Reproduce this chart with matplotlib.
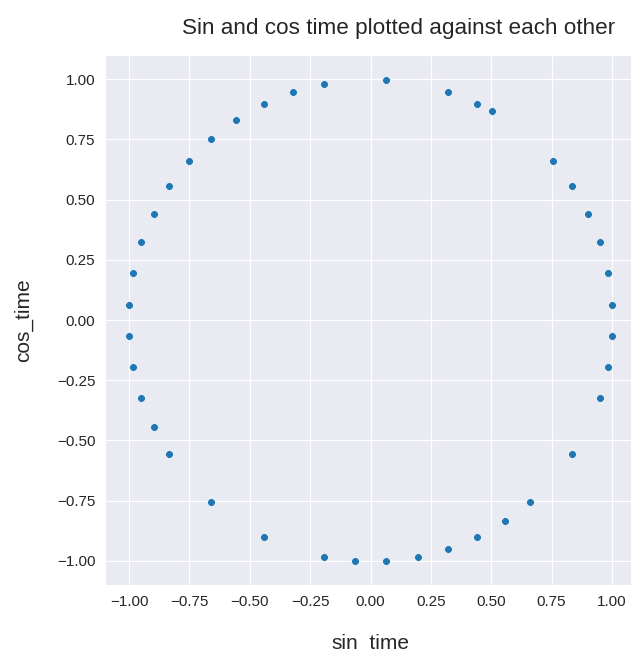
import numpy as np
import matplotlib

matplotlib.use("Agg")
import matplotlib.pyplot as plt
import seaborn as sns

sns.set_style("darkgrid")
plt.rcParams["font.family"] = ["Liberation Sans", "DejaVu Sans"]

# values
sin_time = [
    -1.000, -0.982, -0.949, -0.899, -0.834, -0.754, -0.659, -0.557, -0.443,
    -0.321, -0.194, 0.066, 0.323, 0.443, 0.503, 0.755, 0.834, 0.901, 0.950,
    0.985, 1.000, -1.000, -0.982, -0.949, -0.899, -0.834, -0.659, -0.443,
    -0.194, -0.064, 0.066, 1.000, 0.985, 0.950, 0.834, 0.662, 0.558, 0.443,
    0.323, 0.197,
]
cos_time = [
    0.064, 0.194, 0.322, 0.442, 0.555, 0.659, 0.751, 0.831, 0.897,
    0.947, 0.980, 0.997, 0.947, 0.897, 0.866, 0.659, 0.555, 0.442, 0.322,
    0.194, 0.064, -0.066, -0.197, -0.322, -0.445, -0.558, -0.754, -0.900,
    -0.983, -1.000, -1.000, -0.066, -0.197, -0.322, -0.558, -0.754, -0.833, -0.900,
    -0.950, -0.983,
]

fig = plt.figure(figsize=(6.31, 6.51), dpi=100)
ax = fig.add_axes([105 / 631, 1 - 585 / 651, 531 / 631, 530 / 651])

ax.scatter(sin_time, cos_time, s=32, color="#1f77b4", edgecolor="white", linewidth=0.5)

ax.set_xlim(-1.1, 1.1)
ax.set_ylim(-1.1, 1.1)
ticks = [-1.0, -0.75, -0.5, -0.25, 0.0, 0.25, 0.5, 0.75, 1.0]
ax.set_xticks(ticks)
ax.set_yticks(ticks)
ax.set_xticklabels([f"{t:.2f}".replace("-", "\u2212") for t in ticks])
ax.set_yticklabels([f"{t:.2f}".replace("-", "\u2212") for t in ticks])
ax.tick_params(labelsize=11, colors="#262626")

# the original figure was cropped, so the title sits right of the axes centre
ax.set_title("Sin and cos time plotted against each other", fontsize=16.2,
             pad=15, x=0.552, color="#262626")
ax.set_xlabel("sin_time", fontsize=15, labelpad=18, color="#262626")
ax.set_ylabel("cos_time", fontsize=15, labelpad=17, color="#262626")

fig.savefig("out.png", dpi=100)
